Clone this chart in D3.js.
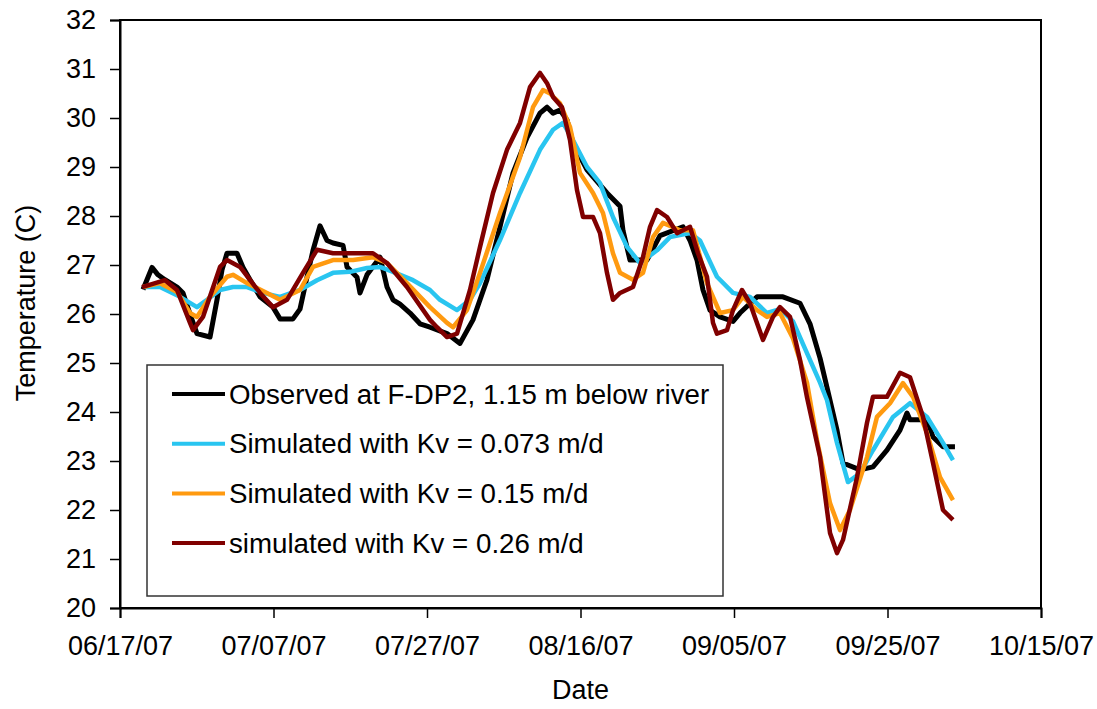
<!DOCTYPE html>
<html lang="en">
<head>
<meta charset="utf-8">
<title>Temperature at F-DP2</title>
<script src="https://d3js.org/d3.v7.min.js"></script>
<style>
  body { margin: 0; background: #fff; }
  text { font-family: Arial, "Liberation Sans", sans-serif; fill: #000; }
  .tick text { font-size: 27px; }
  .legend text { font-size: 27.7px; }
</style>
</head>
<body>
<script>
// days after 06/17/07 and temperature (C) for each series
var obsDay = [3.0, 3.65, 4.17, 4.95, 5.86, 7.43, 8.21, 9.12, 10.03, 11.73, 12.64, 13.29, 13.94, 15.24, 16.03, 16.94, 18.24, 19.93, 20.85, 22.54, 23.45, 24.36, 25.15, 26.06, 26.97, 27.75, 29.06, 29.58, 30.88, 31.27, 32.18, 33.88, 34.79, 35.57, 36.48, 37.79, 39.09, 40.39, 42.61, 44.3, 45.99, 47.82, 49.51, 51.21, 53.03, 54.72, 55.64, 56.42, 57.33, 58.24, 59.02, 60.85, 63.45, 65.15, 65.54, 66.45, 68.66, 70.36, 73.36, 74.27, 75.18, 75.96, 76.87, 78.18, 79.87, 80.78, 83.0, 86.38, 88.6, 89.9, 91.21, 92.12, 93.42, 94.2, 96.42, 98.11, 99.93, 101.63, 102.54, 102.93, 105.15, 105.93, 107.23, 108.79];
var obsTemp = [26.5, 26.75, 26.95, 26.8, 26.7, 26.55, 26.43, 26.0, 25.6, 25.53, 26.29, 26.9, 27.24, 27.24, 26.95, 26.7, 26.35, 26.14, 25.9, 25.9, 26.1, 26.75, 27.3, 27.8, 27.5, 27.45, 27.4, 26.96, 26.75, 26.43, 26.8, 27.16, 26.55, 26.29, 26.2, 26.02, 25.8, 25.73, 25.6, 25.4, 25.88, 26.7, 27.78, 28.88, 29.6, 30.1, 30.22, 30.1, 30.16, 29.96, 29.49, 28.94, 28.47, 28.2, 27.7, 27.1, 27.1, 27.6, 27.78, 27.5, 27.1, 26.49, 26.08, 25.94, 25.85, 26.02, 26.35, 26.35, 26.22, 25.8, 25.1, 24.5, 23.63, 22.96, 22.82, 22.88, 23.22, 23.63, 23.98, 23.84, 23.84, 23.49, 23.29, 23.29];

var lowDay = [3.0, 5.21, 7.82, 10.03, 11.34, 13.03, 14.72, 16.55, 18.63, 20.85, 23.45, 25.67, 27.75, 29.97, 32.18, 33.88, 35.57, 38.18, 40.39, 41.69, 43.91, 45.6, 46.91, 49.51, 52.12, 54.72, 56.42, 57.72, 59.02, 60.85, 62.54, 64.23, 66.06, 67.75, 69.97, 71.66, 74.27, 75.57, 77.78, 79.87, 82.08, 84.3, 85.99, 87.69, 89.51, 91.21, 92.12, 93.42, 94.85, 96.42, 98.11, 100.72, 102.93, 105.15, 107.23, 108.53];
var lowTemp = [26.55, 26.55, 26.35, 26.14, 26.29, 26.49, 26.55, 26.55, 26.43, 26.35, 26.49, 26.69, 26.84, 26.86, 26.94, 26.96, 26.86, 26.69, 26.49, 26.29, 26.08, 26.29, 26.63, 27.51, 28.47, 29.35, 29.76, 29.9, 29.55, 29.0, 28.67, 27.98, 27.37, 27.04, 27.3, 27.57, 27.65, 27.5, 26.76, 26.43, 26.35, 26.02, 26.1, 25.85, 25.2, 24.6, 24.24, 23.37, 22.57, 22.75, 23.22, 23.9, 24.18, 23.9, 23.37, 23.02];

var midDay = [3.0, 5.21, 7.43, 9.12, 10.03, 11.73, 13.94, 14.72, 16.55, 19.15, 20.85, 23.45, 25.15, 27.75, 30.36, 32.96, 34.79, 37.39, 40.39, 42.61, 43.39, 45.21, 46.91, 49.51, 52.12, 53.81, 55.11, 56.03, 57.33, 58.63, 59.93, 61.63, 62.93, 64.23, 65.15, 66.84, 68.14, 69.45, 70.75, 72.96, 74.66, 76.48, 78.18, 79.87, 81.17, 83.0, 84.3, 85.99, 87.69, 89.51, 90.81, 92.51, 93.81, 95.11, 97.33, 98.63, 100.33, 102.02, 103.32, 105.15, 106.84, 108.53];
var midTemp = [26.55, 26.63, 26.45, 26.02, 25.94, 26.35, 26.76, 26.8, 26.63, 26.43, 26.29, 26.49, 26.96, 27.1, 27.1, 27.16, 27.04, 26.63, 26.14, 25.82, 25.73, 26.08, 26.84, 28.06, 29.2, 30.22, 30.57, 30.5, 30.3, 29.82, 28.88, 28.47, 28.06, 27.24, 26.84, 26.7, 26.84, 27.57, 27.86, 27.71, 27.71, 26.63, 26.02, 26.08, 26.35, 26.08, 25.94, 26.02, 25.5, 24.6, 23.43, 22.14, 21.59, 22.0, 23.08, 23.9, 24.18, 24.59, 24.31, 23.57, 22.67, 22.2];

var highDay = [2.87, 5.86, 7.43, 9.12, 9.51, 10.81, 13.03, 13.94, 15.64, 18.24, 19.93, 21.76, 23.84, 25.67, 27.75, 29.97, 32.96, 34.79, 37.39, 40.39, 41.3, 42.61, 43.91, 45.6, 46.91, 48.6, 50.42, 52.12, 53.42, 54.72, 55.64, 56.42, 57.59, 58.63, 59.54, 60.33, 61.63, 62.54, 63.45, 64.23, 65.15, 66.84, 68.14, 69.06, 69.97, 71.27, 72.57, 74.27, 75.31, 76.48, 77.26, 77.78, 79.09, 79.87, 81.04, 82.08, 83.78, 85.08, 85.99, 87.3, 88.6, 89.51, 91.21, 92.51, 93.42, 94.2, 96.03, 97.33, 98.11, 99.93, 101.63, 102.93, 104.63, 105.93, 107.23, 108.53];
var highTemp = [26.55, 26.69, 26.49, 25.82, 25.67, 25.94, 26.96, 27.1, 26.96, 26.43, 26.14, 26.29, 26.84, 27.31, 27.24, 27.24, 27.24, 27.04, 26.55, 25.88, 25.73, 25.53, 25.6, 26.49, 27.37, 28.47, 29.35, 29.9, 30.63, 30.92, 30.71, 30.43, 30.22, 29.55, 28.53, 27.98, 27.98, 27.65, 26.84, 26.29, 26.43, 26.55, 27.16, 27.78, 28.12, 27.98, 27.65, 27.78, 27.24, 26.76, 25.82, 25.6, 25.67, 26.08, 26.49, 26.22, 25.47, 25.94, 26.14, 25.94, 25.06, 24.3, 23.08, 21.53, 21.12, 21.39, 22.67, 23.78, 24.31, 24.31, 24.8, 24.71, 23.9, 22.96, 22.0, 21.8];

var seriesNames = ["Observed at F-DP2, 1.15 m below river", "Simulated with Kv = 0.073 m/d", "Simulated with Kv = 0.15 m/d", "simulated with Kv = 0.26 m/d"];
var seriesColors = ["#000000", "#29c5f0", "#ff9a10", "#800000"];
var yTicks = [20, 21, 22, 23, 24, 25, 26, 27, 28, 29, 30, 31, 32];
var xTickDays = [0, 20, 40, 60, 80, 100, 120];

var width = 1097, height = 709;
var margin = {top: 20, right: 56, bottom: 101, left: 120};
var w = width - margin.left - margin.right;
var h = height - margin.top - margin.bottom;

var start = new Date(2007, 5, 17);
function toDate(d) { return new Date(start.getTime() + d * 86400000); }

var series = [[obsDay, obsTemp], [lowDay, lowTemp], [midDay, midTemp], [highDay, highTemp]].map(function(s, i) {
  return {
    name: seriesNames[i],
    color: seriesColors[i],
    values: s[0].map(function(d, j) { return {date: toDate(d), t: s[1][j]}; })
  };
});

var svg = d3.select("body").append("svg")
  .attr("width", width)
  .attr("height", height);

var x = d3.scaleTime()
  .domain([toDate(0), toDate(120)])
  .range([0, w]);

var y = d3.scaleLinear()
  .domain([20, 32])
  .range([h, 0]);

var g = svg.append("g")
  .attr("transform", "translate(" + margin.left + "," + margin.top + ")");

// plot frame
g.append("rect")
  .attr("width", w)
  .attr("height", h)
  .attr("fill", "none")
  .attr("stroke", "#000")
  .attr("stroke-width", 2);

g.append("clipPath").attr("id", "clip")
  .append("rect").attr("width", w).attr("height", h);

var line = d3.line()
  .x(function(d) { return x(d.date); })
  .y(function(d) { return y(d.t); });

g.append("g")
  .attr("clip-path", "url(#clip)")
  .selectAll("path")
  .data(series)
  .enter().append("path")
  .attr("fill", "none")
  .attr("stroke", function(d) { return d.color; })
  .attr("stroke-width", function(d, i) { return i == 0 ? 5 : 4.5; })
  .attr("stroke-linejoin", "round")
  .attr("d", function(d) { return line(d.values); });

var xAxis = g.append("g")
  .attr("transform", "translate(0," + h + ")")
  .call(d3.axisBottom(x)
    .tickValues(xTickDays.map(toDate))
    .tickFormat(d3.timeFormat("%m/%d/%y"))
    .tickSize(10)
    .tickPadding(18));

var yAxis = g.append("g")
  .call(d3.axisLeft(y)
    .tickValues(yTicks)
    .tickFormat(d3.format("d"))
    .tickSize(10)
    .tickPadding(14));

[xAxis, yAxis].forEach(function(a) {
  a.select(".domain").attr("stroke-width", 2);
  a.selectAll(".tick line").attr("stroke-width", 1.5);
  a.selectAll(".tick text").attr("fill", "#000");
});

// axis titles
svg.append("text")
  .attr("x", margin.left + w / 2)
  .attr("y", 699)
  .attr("text-anchor", "middle")
  .attr("font-size", 27)
  .text("Date");

svg.append("text")
  .attr("transform", "translate(35,303) rotate(-90)")
  .attr("text-anchor", "middle")
  .attr("font-size", 27)
  .text("Temperature (C)");

// legend
var legend = svg.append("g").attr("class", "legend");

legend.append("rect")
  .attr("x", 147)
  .attr("y", 365)
  .attr("width", 576)
  .attr("height", 231)
  .attr("fill", "#fff")
  .attr("stroke", "#333")
  .attr("stroke-width", 1.5);

var item = legend.selectAll("g.item")
  .data(series)
  .enter().append("g")
  .attr("class", "item")
  .attr("transform", function(d, i) { return "translate(172," + (394 + i * 49.7) + ")"; });

item.append("line")
  .attr("x1", 0).attr("x2", 53)
  .attr("stroke", function(d) { return d.color; })
  .attr("stroke-width", 4);

item.append("text")
  .attr("x", 57)
  .attr("dy", "0.35em")
  .text(function(d) { return d.name; });
</script>
</body>
</html>
